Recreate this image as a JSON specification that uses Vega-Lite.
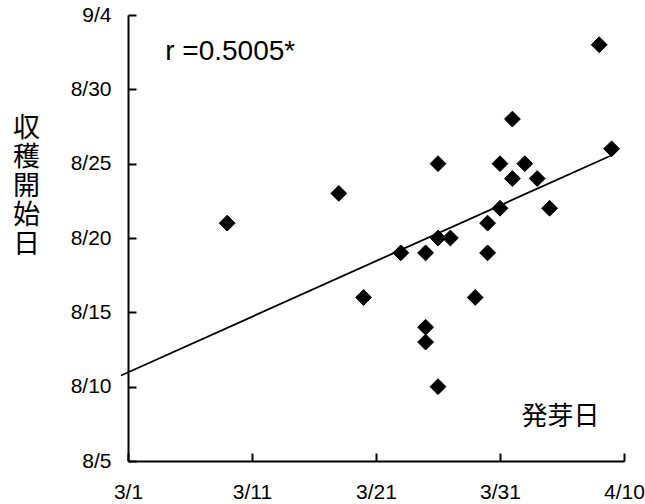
{
  "$schema": "https://vega.github.io/schema/vega-lite/v6.json",
  "autosize": "none",
  "width": 496,
  "height": 446,
  "padding": {"left": 128, "top": 15, "right": 21, "bottom": 43},
  "background": "white",
  "config": {
    "view": {"stroke": null},
    "axis": {
      "grid": false,
      "domainColor": "black",
      "domainWidth": 2,
      "tickColor": "black",
      "tickWidth": 2,
      "tickSize": -8,
      "labelFont": "Liberation Sans",
      "labelFontSize": 21,
      "labelColor": "black",
      "titleColor": "black",
      "titleFontWeight": "normal",
      "titleFont": "Noto Sans CJK JP"
    }
  },
  "datasets": {
    "points": [
      {"germination": "2001-03-09", "harvest": "2001-08-21"},
      {"germination": "2001-03-18", "harvest": "2001-08-23"},
      {"germination": "2001-03-26", "harvest": "2001-08-25"},
      {"germination": "2001-03-31", "harvest": "2001-08-25"},
      {"germination": "2001-04-01", "harvest": "2001-08-28"},
      {"germination": "2001-04-01", "harvest": "2001-08-24"},
      {"germination": "2001-04-02", "harvest": "2001-08-25"},
      {"germination": "2001-04-03", "harvest": "2001-08-24"},
      {"germination": "2001-04-04", "harvest": "2001-08-22"},
      {"germination": "2001-03-31", "harvest": "2001-08-22"},
      {"germination": "2001-03-30", "harvest": "2001-08-21"},
      {"germination": "2001-04-08", "harvest": "2001-09-02"},
      {"germination": "2001-04-09", "harvest": "2001-08-26"},
      {"germination": "2001-03-26", "harvest": "2001-08-20"},
      {"germination": "2001-03-27", "harvest": "2001-08-20"},
      {"germination": "2001-03-23", "harvest": "2001-08-19"},
      {"germination": "2001-03-25", "harvest": "2001-08-19"},
      {"germination": "2001-03-30", "harvest": "2001-08-19"},
      {"germination": "2001-03-20", "harvest": "2001-08-16"},
      {"germination": "2001-03-29", "harvest": "2001-08-16"},
      {"germination": "2001-03-25", "harvest": "2001-08-14"},
      {"germination": "2001-03-25", "harvest": "2001-08-13"},
      {"germination": "2001-03-26", "harvest": "2001-08-10"}
    ],
    "trend": [
      {"germination": "2001-02-28T10:30:00Z", "harvest": "2001-08-10T18:00:00Z"},
      {"germination": "2001-04-09T02:24:00Z", "harvest": "2001-08-25T14:24:00Z"}
    ]
  },
  "layer": [
    {
      "data": {"name": "trend"},
      "mark": {"type": "line", "color": "black", "strokeWidth": 1.8, "clip": false},
      "encoding": {
        "x": {"field": "germination", "type": "temporal"},
        "y": {"field": "harvest", "type": "temporal"}
      }
    },
    {
      "data": {"name": "points"},
      "mark": {"type": "point", "shape": "diamond", "filled": true, "color": "black", "size": 250, "stroke": "black", "strokeWidth": 1, "strokeJoin": "round", "opacity": 1},
      "encoding": {
        "x": {
          "field": "germination",
          "type": "temporal",
          "scale": {"type": "utc", "domain": [{"year": 2001, "month": 3, "date": 1, "utc": true}, {"year": 2001, "month": 4, "date": 10, "utc": true}], "nice": false},
          "axis": {
            "values": [
              {"year": 2001, "month": 3, "date": 1, "utc": true},
              {"year": 2001, "month": 3, "date": 11, "utc": true},
              {"year": 2001, "month": 3, "date": 21, "utc": true},
              {"year": 2001, "month": 3, "date": 31, "utc": true},
              {"year": 2001, "month": 4, "date": 10, "utc": true}
            ],
            "labelExpr": "utcFormat(datum.value, '%-m/%-d')",
            "labelPadding": 28,
            "labelFlush": false,
            "labelOverlap": false,
            "title": "発芽日",
            "titleFontSize": 26,
            "titleX": 432,
            "titleY": -45,
            "titleAlign": "center",
            "titleBaseline": "middle",
            "titleAngle": 0
          }
        },
        "y": {
          "field": "harvest",
          "type": "temporal",
          "scale": {"type": "utc", "domain": [{"year": 2001, "month": 8, "date": 5, "utc": true}, {"year": 2001, "month": 9, "date": 4, "utc": true}], "nice": false},
          "axis": {
            "values": [
              {"year": 2001, "month": 8, "date": 5, "utc": true},
              {"year": 2001, "month": 8, "date": 10, "utc": true},
              {"year": 2001, "month": 8, "date": 15, "utc": true},
              {"year": 2001, "month": 8, "date": 20, "utc": true},
              {"year": 2001, "month": 8, "date": 25, "utc": true},
              {"year": 2001, "month": 8, "date": 30, "utc": true},
              {"year": 2001, "month": 9, "date": 4, "utc": true}
            ],
            "labelExpr": "utcFormat(datum.value, '%-m/%-d')",
            "labelPadding": 25,
            "labelFlush": false,
            "labelOverlap": false,
            "labelBaseline": "middle",
            "title": ["収", "穫", "開", "始", "日"],
            "titleFontSize": 27,
            "titleLineHeight": 29,
            "titleAngle": 0,
            "titleX": -102,
            "titleY": 100,
            "titleAlign": "center",
            "titleBaseline": "top"
          }
        }
      }
    },
    {
      "data": {"values": [{}]},
      "mark": {"type": "text", "text": "r =0.5005*", "font": "Liberation Sans", "fontSize": 28, "align": "left", "baseline": "alphabetic", "color": "black"},
      "encoding": {
        "x": {"datum": {"year": 2001, "month": 3, "date": 4, "utc": true}, "type": "temporal"},
        "y": {"datum": {"year": 2001, "month": 9, "date": 1, "utc": true}, "type": "temporal"}
      }
    }
  ]
}
